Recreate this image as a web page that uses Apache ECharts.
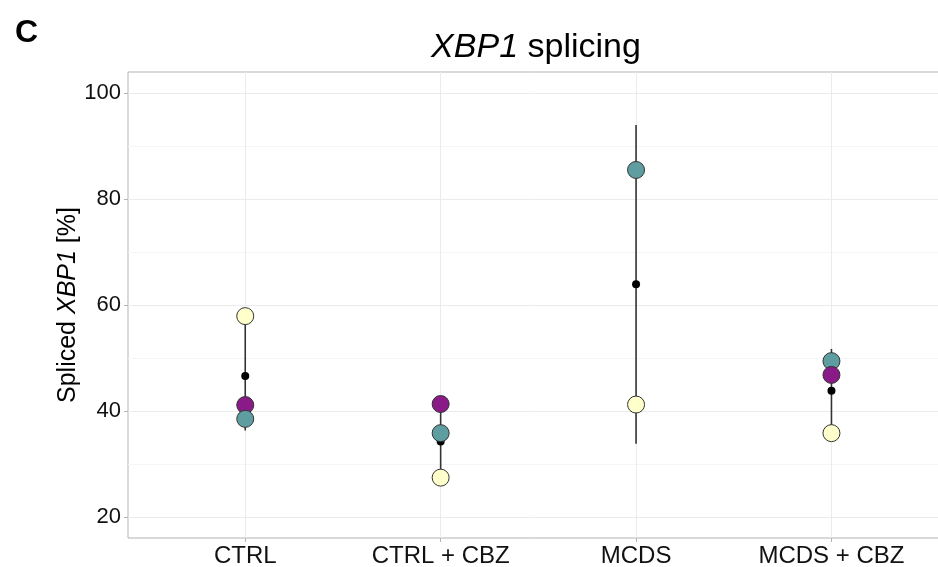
<!DOCTYPE html>
<html><head><meta charset="utf-8">
<script src="https://cdn.jsdelivr.net/npm/echarts@6.0.0/dist/echarts.min.js"></script>
<style>html,body{margin:0;padding:0;background:#fff;overflow:hidden}#c{width:938px;height:567px}</style>
</head><body><div id="c"></div>
<script>
const categories = ['CTRL', 'CTRL + CBZ', 'MCDS', 'MCDS + CBZ'];
const rep1Values = [57.9, 27.4, 41.2, 35.8];   // light yellow replicate
const rep2Values = [41.1, 41.3, null, 46.8];   // purple replicate
const rep3Values = [38.5, 35.8, 85.5, 49.4];   // teal replicate
const meanValues = [46.6, 34.2, 63.9, 43.8];
const errLow = [36.3, 27.8, 33.8, 35.9];
const errHigh = [56.9, 41.6, 94.0, 51.7];
const yTicks = [20, 40, 60, 80, 100];
const yMinorTicks = [30, 50, 70, 90];
const repColors = ['#FFFFCC', '#8B1A89', '#5F9EA0'];

const FONT = 'Liberation Sans, Arial, Helvetica, sans-serif';
const xPos = categories.map((c, i) => i + 1);

// replicate points: within each group, higher values drawn first
const pointData = [];
categories.forEach((c, i) => {
  const items = [rep1Values[i], rep2Values[i], rep3Values[i]]
    .map((v, k) => ({ v, k }))
    .filter(o => o.v !== null && o.v !== undefined)
    .sort((a, b) => b.v - a.v);
  items.forEach(o => pointData.push({ value: [xPos[i], o.v], itemStyle: { color: repColors[o.k] } }));
});
const meanData = meanValues.map((v, i) => [xPos[i], v]);
const errData = categories.map((c, i) => [xPos[i], errLow[i], errHigh[i]]);

const chart = echarts.init(document.getElementById('c'), null, { renderer: 'canvas' });
chart.setOption({
  animation: false,
  backgroundColor: '#ffffff',
  textStyle: { fontFamily: FONT },
  title: [
    { text: 'C', left: 10, top: 12, textStyle: { fontFamily: FONT, fontSize: 32, fontWeight: 'bold', color: '#000' } },
    {
      text: '{i|XBP1}{n| splicing}', left: 531, top: 26, textAlign: 'center',
      textStyle: {
        fontWeight: 'normal',
        rich: {
          i: { fontFamily: FONT, fontSize: 34, fontStyle: 'italic', fontWeight: 'normal', color: '#000' },
          n: { fontFamily: FONT, fontSize: 34, fontWeight: 'normal', color: '#000' }
        }
      }
    }
  ],
  grid: {
    left: 128, top: 72, height: 466, width: 820.7,
    outerBoundsMode: 'none', containLabel: false,
    show: true, borderColor: '#b3b3b3', borderWidth: 1, backgroundColor: 'transparent'
  },
  xAxis: {
    type: 'value', min: 0.4, max: 4.6,
    axisLine: { show: false },
    axisTick: { show: true, customValues: xPos, length: 4, lineStyle: { color: '#b3b3b3', width: 1 } },
    axisLabel: {
      customValues: xPos, margin: 6, fontSize: 24, color: '#111', fontFamily: FONT,
      formatter: v => categories[Math.round(v) - 1]
    },
    splitLine: { show: true, lineStyle: { color: '#ebebeb', width: 1 } }
  },
  yAxis: [
    {
      type: 'value', min: 16, max: 104,
      axisLine: { show: false },
      axisTick: { show: true, customValues: yTicks, length: 4, lineStyle: { color: '#b3b3b3', width: 1 } },
      axisLabel: { customValues: yTicks, margin: 7, fontSize: 22, color: '#111', fontFamily: FONT },
      splitLine: { show: true, lineStyle: { color: '#ebebeb', width: 1 } },
      name: '{n|Spliced }{i|XBP1}{n| [%]}',
      nameLocation: 'middle', nameRotate: 90, nameGap: 47, nameMoveOverlap: false,
      nameTextStyle: {
        rich: {
          n: { fontFamily: FONT, fontSize: 25, color: '#000' },
          i: { fontFamily: FONT, fontSize: 25, fontStyle: 'italic', color: '#000' }
        }
      }
    },
    {
      type: 'value', min: 16, max: 104, position: 'left',
      axisLine: { show: false },
      axisTick: { show: false, customValues: yMinorTicks },
      axisLabel: { show: false, customValues: yMinorTicks },
      splitLine: { show: true, lineStyle: { color: '#f5f5f5', width: 1 } }
    }
  ],
  series: [
    {
      type: 'custom', z: 1, data: errData,
      renderItem: (params, api) => {
        const x = api.value(0);
        const p1 = api.coord([x, api.value(1)]);
        const p2 = api.coord([x, api.value(2)]);
        return { type: 'line', shape: { x1: p1[0], y1: p1[1], x2: p2[0], y2: p2[1] },
                 style: { stroke: '#333333', lineWidth: 1.6 } };
      }
    },
    {
      type: 'scatter', z: 2, data: meanData, symbol: 'circle', symbolSize: 8,
      itemStyle: { color: '#000', opacity: 1 }
    },
    {
      type: 'scatter', z: 3, data: pointData, symbol: 'circle', symbolSize: 17,
      itemStyle: { borderColor: '#333333', borderWidth: 1, opacity: 1 }
    }
  ]
});
</script>
</body></html>
